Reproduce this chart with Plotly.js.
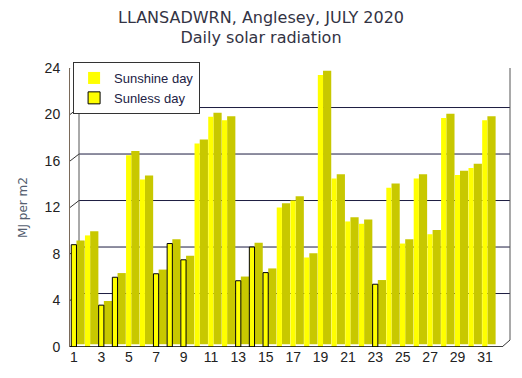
<!DOCTYPE html>
<html>
<head>
<meta charset="utf-8">
<script src="https://cdn.plot.ly/plotly-3.0.1.min.js"></script>
<style>html,body{margin:0;padding:0;background:#fff;}#chart{width:522px;height:378px;}</style>
</head>
<body>
<div id="chart"></div>
<script>
// ---- data ----
const days = [1,2,3,4,5,6,7,8,9,10,11,12,13,14,15,16,17,18,19,20,21,22,23,24,25,26,27,28,29,30,31];
const radiation = [8.8,9.6,3.6,6.0,16.5,14.4,6.3,8.9,7.5,17.5,19.8,19.5,5.7,8.6,6.4,12.0,12.6,7.7,23.4,14.5,10.8,10.6,5.4,13.7,8.9,14.5,9.7,19.7,14.8,15.4,19.5];
const sunless = [1,0,1,1,0,0,1,1,1,0,0,0,1,1,1,0,0,0,0,0,0,0,1,0,0,0,0,0,0,0,0];
const xTickVals = [1,3,5,7,9,11,13,15,17,19,21,23,25,27,29,31];
const xTickText = ['1','3','5','7','9','11','13','15','17','19','21','23','25','27','29','31'];
const yTickVals = [0,4,8,12,16,20,24];
const yTickText = ['0','4','8','12','16','20','24'];
const seriesNames = ['Sunshine day','Sunless day'];
const titleLines = ['LLANSADWRN, Anglesey, JULY 2020','Daily solar radiation'];
const yTitle = 'MJ per m2';

// ---- faux 3D geometry ----
const depthY = 0.6;            // back-wall vertical shift in data units
const wallX = 9/440;           // back-wall horizontal shift in paper units
const frontRight = 432/440;    // right end of front floor edge
const sideBase = depthY*0.4;

const sunnyVals = radiation.map((v,i)=> sunless[i] ? null : v);
const dullVals  = radiation.map((v,i)=> sunless[i] ? v : null);
const sideVals  = radiation.map(v => v + depthY*0.6 - sideBase);

const traces = [
  {type:'bar', x:days, y:sideVals, base:sideBase, offset:0.18, width:0.6,
   marker:{color:'#c8c800', line:{width:0}}, showlegend:false, hoverinfo:'skip'},
  {type:'bar', name:seriesNames[0], x:days, y:sunnyVals, offset:-0.2, width:0.38,
   marker:{color:'#ffff00', line:{width:0}}},
  {type:'bar', name:seriesNames[1], x:days, y:dullVals, offset:-0.2, width:0.38,
   marker:{color:'#ffff00', line:{width:1, color:'#000'}}}
];

const shapes = [];
// back-wall gridlines
yTickVals.forEach(v=>{
  if (v>0 && v<24) shapes.push({type:'line', xref:'paper', yref:'y', x0:wallX, x1:1, y0:v+depthY, y1:v+depthY,
    line:{color:'#1c1c40', width:1}, layer:'below'});
  shapes.push({type:'line', xref:'paper', yref:'y', x0:0, x1:wallX, y0:v, y1:v+depthY,
    line:{color:'#333', width:1}, layer:'below'});
});
// top border (dotted), left back edge, right wall
shapes.push({type:'line', xref:'paper', yref:'y', x0:wallX, x1:1, y0:24+depthY, y1:24+depthY,
  line:{color:'#6a6a9a', width:1, dash:'dot'}, layer:'below'});
shapes.push({type:'line', xref:'paper', yref:'y', x0:wallX, x1:wallX, y0:depthY, y1:24+depthY,
  line:{color:'#555', width:1}, layer:'below'});
shapes.push({type:'line', xref:'paper', yref:'y', x0:1, x1:1, y0:depthY, y1:24+depthY,
  line:{color:'#555', width:1}, layer:'below'});
shapes.push({type:'line', xref:'paper', yref:'y', x0:frontRight, x1:1, y0:0, y1:depthY,
  line:{color:'#333', width:1}, layer:'above'});
// front floor edge
shapes.push({type:'line', xref:'paper', yref:'y', x0:0, x1:frontRight, y0:0, y1:0,
  line:{color:'#000', width:1.5}, layer:'above'});

const layout = {
  width:522, height:378,
  margin:{l:70, r:12, t:68, b:31, pad:0},
  paper_bgcolor:'#fff', plot_bgcolor:'#fff',
  barmode:'overlay',
  title:{text:titleLines[0]+'<br>'+titleLines[1], x:0.5, xanchor:'center', yref:'container', y:0.94, yanchor:'top',
    font:{family:'DejaVu Sans', size:16, color:'#333344'}, automargin:false},
  xaxis:{range:[0.708,32.83], tickvals:xTickVals, ticktext:xTickText, showgrid:false, zeroline:false,
    showline:false, ticks:'', tickfont:{family:'Liberation Sans', size:14, color:'#222'}, fixedrange:true},
  yaxis:{range:[0,24], tickvals:yTickVals, ticktext:yTickText, showgrid:false, zeroline:false,
    showline:true, linecolor:'#7a6a5a', linewidth:1, ticks:'', ticklabelstandoff:6,
    tickfont:{family:'Liberation Sans', size:14, color:'#222'},
    title:{text:yTitle, standoff:14, font:{family:'DejaVu Sans', size:12, color:'#556070'}}, fixedrange:true},
  legend:{x:0.007, y:1.0215, xanchor:'left', yanchor:'top', bgcolor:'#fff', bordercolor:'#333', borderwidth:1,
    font:{family:'Liberation Sans', size:13, color:'#222244'}, tracegroupgap:2},
  shapes:shapes,
  showlegend:true
};

Plotly.newPlot('chart', traces, layout, {displayModeBar:false, staticPlot:true});
</script>
</body>
</html>
